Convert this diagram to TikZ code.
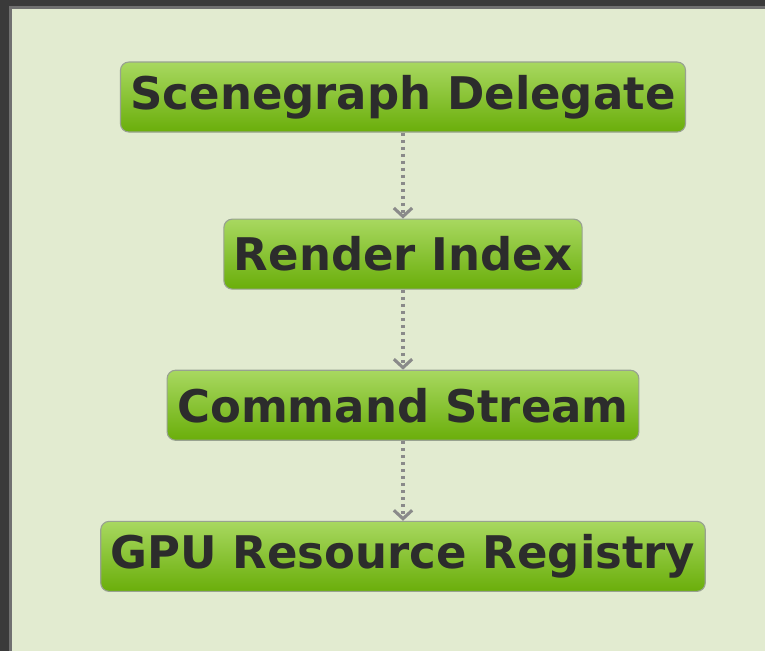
\documentclass[tikz,border=0pt]{standalone}
\usepackage{fontspec}
\setsansfont{DejaVu Sans}
\usetikzlibrary{positioning}
\usetikzlibrary{arrows.meta}
\definecolor{panel}{HTML}{E2EBD0}
\definecolor{frame}{HTML}{3A3A3A}
\definecolor{edge}{HTML}{707070}
\definecolor{boxtop}{HTML}{A8D860}
\definecolor{boxbot}{HTML}{6AAE0A}
\definecolor{boxline}{HTML}{98A290}
\definecolor{ink}{HTML}{2C2C2C}
\definecolor{link}{HTML}{8A8A8A}
\begin{document}
\begin{tikzpicture}[
box/.style={draw=boxline, line width=0.8pt, rounded corners=6pt,
  top color=boxtop, bottom color=boxbot, minimum height=1.75cm,
  inner xsep=0.25cm, text=ink, font=\sffamily\bfseries\fontsize{32}{36}\selectfont},
flow/.style={draw=link, line width=2.2pt, dash pattern=on 2.2pt off 2.8pt,
  -{Straight Barb[length=6pt,width=13pt,line width=2.2pt]}}
]
\useasboundingbox (0,0) rectangle (19.125,-16.275);
\fill[frame] (0,0) rectangle (19.125,-16.275);
\fill[edge] (0.225,-0.15) rectangle (19.125,-16.275);
\fill[panel] (0.3,-0.225) rectangle (19.125,-16.275);
\node[box] (sd) at (10.075,-2.425) {Scenegraph Delegate};
\node[box, below=2.15cm of sd] (ri) {Render Index};
\node[box, below=2cm of ri] (cs) {Command Stream};
\node[box, below=2cm of cs] (gpu) {GPU Resource Registry};
\draw[flow] (sd.south) -- (ri.north);
\draw[flow] (ri.south) -- (cs.north);
\draw[flow] (cs.south) -- (gpu.north);
\end{tikzpicture}
\end{document}
